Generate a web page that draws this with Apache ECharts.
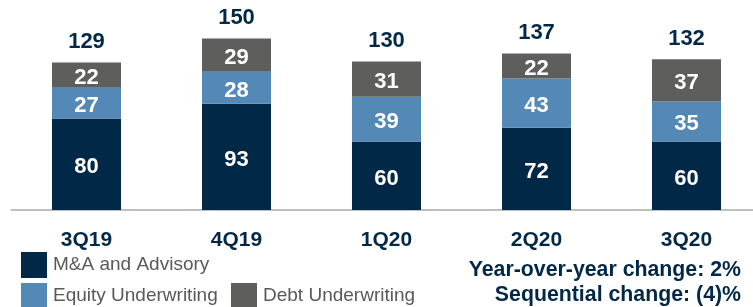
<!DOCTYPE html>
<html>
<head>
<meta charset="utf-8">
<script src="https://cdn.jsdelivr.net/npm/echarts@6/dist/echarts.min.js"></script>
<style>html,body{margin:0;padding:0;background:#fff;}#c{width:753px;height:307px;}</style>
</head>
<body>
<div id="c"></div>
<script>
const categories = ['3Q19', '4Q19', '1Q20', '2Q20', '3Q20'];
const maAdvisory = [80, 93, 60, 72, 60];
const equityUnderwriting = [27, 28, 39, 43, 35];
const debtUnderwriting = [22, 29, 31, 22, 37];
const totals = [129, 150, 130, 137, 132];
const note1 = 'Year-over-year change: 2%';
const note2 = 'Sequential change: (4)%';

const NAVY = '#022848';
const BLUE = '#5388b7';
const GRAY = '#5e5f5d';
const FONT = 'Liberation Sans, Arial, sans-serif';

const chart = echarts.init(document.getElementById('c'), null, {renderer: 'canvas'});
const inLabel = {
  show: true, position: 'inside', color: '#fff', fontWeight: 'bold',
  fontSize: 22, fontFamily: FONT, offset: [0, 3]
};
const legendBase = {
  orient: 'horizontal', itemWidth: 26, itemHeight: 26, icon: 'rect', padding: 0,
  selectedMode: false,
  textStyle: {fontSize: 19, color: '#595959', fontFamily: FONT, padding: [5, 0, 0, 1]}
};
chart.setOption({
  animation: false,
  grid: {left: 11.5, width: 750, top: 10, bottom: 97, containLabel: false, outerBoundsMode: 'none'},
  legend: [
    Object.assign({}, legendBase, {left: 21, top: 252, data: ['M&A and Advisory']}),
    Object.assign({}, legendBase, {left: 21, top: 283, data: ['Equity Underwriting']}),
    Object.assign({}, legendBase, {left: 231, top: 283, data: ['Debt Underwriting']})
  ],
  xAxis: {
    type: 'category', data: categories,
    axisLine: {lineStyle: {color: '#bfbfbf', width: 2}},
    axisTick: {show: false},
    axisLabel: {color: NAVY, fontWeight: 'bold', fontSize: 21, fontFamily: FONT, margin: 20}
  },
  yAxis: {type: 'value', min: 0, max: 175, show: false, splitLine: {show: false}},
  graphic: [
    {type: 'text', right: 12, top: 260, style: {text: note1, fill: NAVY, font: 'bold 21.3px ' + FONT, textAlign: 'right'}},
    {type: 'text', right: 12, top: 285, style: {text: note2, fill: NAVY, font: 'bold 21.3px ' + FONT, textAlign: 'right'}}
  ],
  series: [
    {name: 'M&A and Advisory', type: 'bar', stack: 'rev', barWidth: 69, data: maAdvisory,
      itemStyle: {color: NAVY}, label: inLabel},
    {name: 'Equity Underwriting', type: 'bar', stack: 'rev', barWidth: 69, data: equityUnderwriting,
      itemStyle: {color: BLUE}, label: inLabel},
    {name: 'Debt Underwriting', type: 'bar', stack: 'rev', barWidth: 69, data: debtUnderwriting,
      itemStyle: {color: GRAY}, label: inLabel},
    {name: 'Total', type: 'bar', barWidth: 69, barGap: '-100%', data: totals,
      itemStyle: {color: 'rgba(0,0,0,0)'}, silent: true, z: 1,
      label: {show: true, position: 'top', distance: 9.5, color: NAVY, fontWeight: 'bold', fontSize: 22, fontFamily: FONT}}
  ]
});
</script>
</body>
</html>
